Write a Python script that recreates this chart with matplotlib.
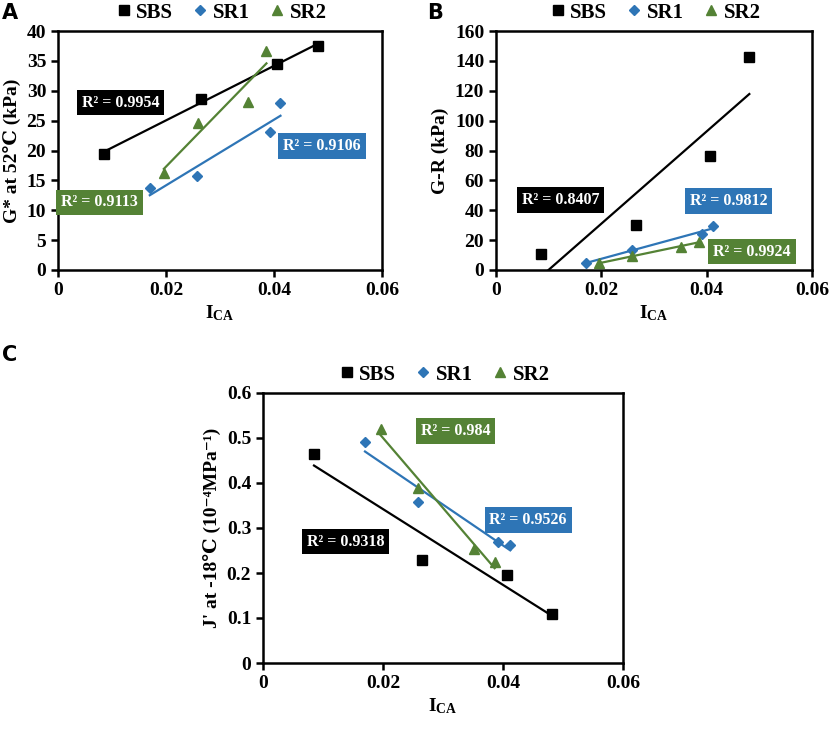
import numpy as np
import matplotlib
matplotlib.use('Agg')
import matplotlib.pyplot as plt
from matplotlib.lines import Line2D

plt.rcParams['font.family'] = ['Liberation Serif', 'DejaVu Serif']
plt.rcParams['font.weight'] = 'bold'
plt.rcParams['axes.labelweight'] = 'bold'
plt.rcParams['mathtext.fontset'] = 'custom'
plt.rcParams['mathtext.rm'] = 'Liberation Serif:bold'
plt.rcParams['mathtext.bf'] = 'Liberation Serif:bold'
plt.rcParams['mathtext.it'] = 'Liberation Serif:bold'
plt.rcParams['mathtext.default'] = 'bf'

# I_CA values of each binder
sbs_x = [0.0085, 0.0265, 0.0406, 0.0481]
sr1_x = [0.0170, 0.0258, 0.0392, 0.0412]
sr2_x = [0.0196, 0.0259, 0.0352, 0.0386]

# A: G* at 52 C (kPa)
g_sbs = [19.4, 28.7, 34.5, 37.5]
g_sr1 = [13.7, 15.7, 23.1, 27.9]
g_sr2 = [16.3, 24.6, 28.1, 36.7]

# B: G-R (kPa)
gr_sbs = [10.5, 30.0, 76.0, 142.5]
gr_sr1 = [4.5, 13.5, 24.0, 29.5]
gr_sr2 = [4.5, 9.5, 15.5, 19.0]

# C: J' at -18 C
j_sbs = [0.465, 0.230, 0.195, 0.110]
j_sr1 = [0.491, 0.357, 0.269, 0.262]
j_sr2 = [0.521, 0.389, 0.254, 0.225]

r2_a = ['0.9954', '0.9106', '0.9113']
r2_b = ['0.8407', '0.9812', '0.9924']
r2_c = ['0.9318', '0.9526', '0.984']

names = ['SBS', 'SR1', 'SR2']
colors = ['black', '#2E75B6', '#548235']
markers = ['s', 'D', '^']
msizes = [6.5, 5.5, 7]

W, H = 830, 731


def make_ax(l, t, r, b):
    return fig.add_axes([l / W, 1 - b / H, (r - l) / W, (b - t) / H])


def panel(ax, ys, ymax, ystep, yticklabels, ylabel, r2, boxpos, letter, letter_xy):
    xs = [sbs_x, sr1_x, sr2_x]
    for x, y, c, m, ms in zip(xs, ys, colors, markers, msizes):
        x = np.array(x)
        y = np.array(y)
        k, b0 = np.polyfit(x, y, 1)
        xx = np.array([x.min(), x.max()])
        ax.plot(xx, k * xx + b0, color=c, lw=1.6, zorder=2)
        ax.plot(x, y, ls='none', marker=m, ms=ms, color=c, zorder=3)
    for txt, (bx, by), c in zip(r2, boxpos, colors):
        ax.text(bx, by, 'R² = ' + txt, color='white', fontsize=11.5,
                fontweight='bold', ha='center', va='center', zorder=4,
                bbox=dict(boxstyle='square,pad=0.3', fc=c, ec='none'))
    ax.set_xlim(0, 0.06)
    ax.set_ylim(0, ymax)
    ax.set_xticks([0, 0.02, 0.04, 0.06])
    ax.set_xticklabels(['0', '0.02', '0.04', '0.06'], fontweight='bold', fontsize=14)
    ax.set_yticks(np.arange(0, ymax + ystep / 2, ystep))
    ax.set_yticklabels(yticklabels, fontweight='bold', fontsize=14)
    ax.tick_params(direction='out', length=5, width=1.8)
    for s in ax.spines.values():
        s.set_linewidth(1.8)
    ax.set_xlabel('I$_{CA}$', fontsize=14, fontweight='bold', labelpad=3)
    ax.set_ylabel(ylabel, fontsize=14, fontweight='bold', labelpad=4)
    handles = [Line2D([], [], ls='none', marker=m, ms=ms, color=c)
               for c, m, ms in zip(colors, markers, msizes)]
    ax.legend(handles, names, loc='lower center', bbox_to_anchor=(0.5, 1.0),
              ncol=3, frameon=False, handletextpad=0.1,
              columnspacing=0.8, borderaxespad=0.0, handlelength=1.0,
              prop=dict(family='Liberation Serif', weight='bold', size=15))
    fig.text(letter_xy[0] / W, 1 - letter_xy[1] / H, letter,
             family='DejaVu Sans', fontweight='bold', fontsize=15,
             ha='left', va='center')


fig = plt.figure(figsize=(W / 100, H / 100), dpi=100)

ax_a = make_ax(58, 31, 382, 270)
panel(ax_a, [g_sbs, g_sr1, g_sr2], 40, 5,
      ['0', '5', '10', '15', '20', '25', '30', '35', '40'],
      'G* at 52℃ (kPa)', r2_a,
      [(0.0116, 28.0), (0.0489, 20.8), (0.0077, 11.3)], 'A', (2, 13))

ax_b = make_ax(496, 31, 812, 270)
panel(ax_b, [gr_sbs, gr_sr1, gr_sr2], 160, 20,
      ['0', '20', '40', '60', '80', '100', '120', '140', '160'],
      'G-R (kPa)', r2_b,
      [(0.0122, 47.0), (0.0442, 46.0), (0.0486, 12.3)], 'B', (427, 13))

ax_c = make_ax(263, 393, 623, 663)
panel(ax_c, [j_sbs, j_sr1, j_sr2], 0.6, 0.1,
      ['0', '0.1', '0.2', '0.3', '0.4', '0.5', '0.6'],
      "J' at -18℃ (10⁻⁴MPa⁻¹)", r2_c,
      [(0.0138, 0.270), (0.0442, 0.318), (0.0321, 0.515)], 'C', (2, 355))

fig.savefig('out.png', dpi=100)
